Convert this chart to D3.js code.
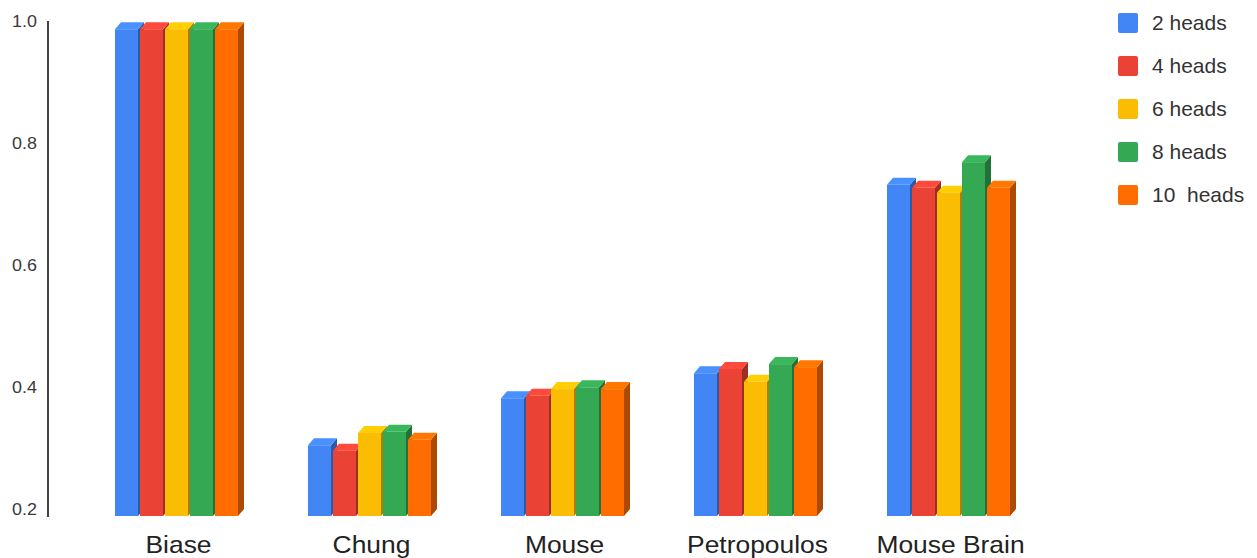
<!DOCTYPE html>
<html>
<head>
<meta charset="utf-8">
<script src="https://cdn.jsdelivr.net/npm/d3@7"></script>
<style>
  html, body { margin: 0; padding: 0; background: #fff; }
  svg { display: block; font-family: "Liberation Sans", Arial, sans-serif; }
</style>
</head>
<body>
<svg id="chart" width="1257" height="558"></svg>
<script>
// Datasets along the x axis
const categories = ["Biase", "Chung", "Mouse", "Petropoulos", "Mouse Brain"];
// Number of attention heads in each series
const seriesNames = ["2 heads", "4 heads", "6 heads", "8 heads", "10  heads"];
const seriesColors = ["#4285F4", "#EA4335", "#FBBC04", "#34A853", "#FF6D01"];
// Scores per series, one value per dataset
const heads2  = [0.998, 0.316, 0.393, 0.434, 0.743];
const heads4  = [0.998, 0.307, 0.397, 0.441, 0.738];
const heads6  = [0.998, 0.336, 0.408, 0.420, 0.730];
const heads8  = [0.998, 0.338, 0.411, 0.449, 0.780];
const heads10 = [0.998, 0.325, 0.408, 0.444, 0.738];
const seriesValues = [heads2, heads4, heads6, heads8, heads10];
const yTicks = [0.2, 0.4, 0.6, 0.8, 1.0];

const svg = d3.select("#chart");

const x0 = d3.scaleBand().domain(categories).range([81, 1046]).paddingInner(0).paddingOuter(0);
const groupW = 125;
const x1 = d3.scaleBand().domain(d3.range(seriesNames.length)).range([0, groupW]).padding(0);
const y = d3.scaleLinear().domain([0.2, 1.0]).range([516, 28]);

const depthX = 6, depthY = 7;
const frontW = 23;

// Vertical axis line and tick labels (text sits just above each tick value)
svg.append("line")
  .attr("x1", 48).attr("x2", 48)
  .attr("y1", 21).attr("y2", 517)
  .attr("stroke", "#444").attr("stroke-width", 2);

svg.append("g").selectAll("text")
  .data(yTicks)
  .join("text")
  .attr("transform", d => `translate(37,${y(d) - 1}) scale(1.12,1)`)
  .attr("text-anchor", "end")
  .attr("font-size", 16)
  .attr("fill", "#3a3a3a")
  .text(d => d3.format(".1f")(d));

// 3D bars: front face, top face and darker right side
const groups = svg.append("g").selectAll("g")
  .data(categories)
  .join("g")
  .attr("transform", d => `translate(${x0(d) + (x0.bandwidth() - groupW) / 2},0)`);

groups.each(function(cat, ci) {
  const g = d3.select(this);
  seriesValues.forEach((vals, si) => {
    const v = vals[ci];
    const bx = x1(si);
    const top = y(v);
    const bottom = y(0.2);
    const col = d3.color(seriesColors[si]);
    const bar = g.append("g");
    // side face
    bar.append("path")
      .attr("d", `M${bx + frontW},${top} L${bx + frontW + depthX},${top - depthY} L${bx + frontW + depthX},${bottom - depthY} L${bx + frontW},${bottom} Z`)
      .attr("fill", col.darker(1.1).formatHex());
    // top face
    bar.append("path")
      .attr("d", `M${bx},${top} L${bx + depthX},${top - depthY} L${bx + frontW + depthX},${top - depthY} L${bx + frontW},${top} Z`)
      .attr("fill", col.brighter(0.25).formatHex());
    // front face
    bar.append("rect")
      .attr("x", bx).attr("y", top)
      .attr("width", frontW).attr("height", bottom - top)
      .attr("fill", seriesColors[si]);
  });
});

// Category labels
svg.append("g").selectAll("text")
  .data(categories)
  .join("text")
  .attr("transform", d => `translate(${x0(d) + x0.bandwidth() / 2 + 1},553) scale(1.1,1)`)
  .attr("text-anchor", "middle")
  .attr("font-size", 24)
  .attr("fill", "#222")
  .text(d => d);

// Legend
const legend = svg.append("g").selectAll("g")
  .data(seriesNames)
  .join("g")
  .attr("transform", (d, i) => `translate(1118,${23 + i * 43})`);

legend.append("rect")
  .attr("x", 0).attr("y", -10)
  .attr("width", 20).attr("height", 20)
  .attr("rx", 2)
  .attr("fill", (d, i) => seriesColors[i]);

legend.append("text")
  .attr("transform", "translate(34,7) scale(1.05,1)")
  .attr("font-size", 20)
  .attr("fill", "#333")
  .attr("xml:space", "preserve")
  .style("white-space", "pre")
  .text(d => d);
</script>
</body>
</html>
